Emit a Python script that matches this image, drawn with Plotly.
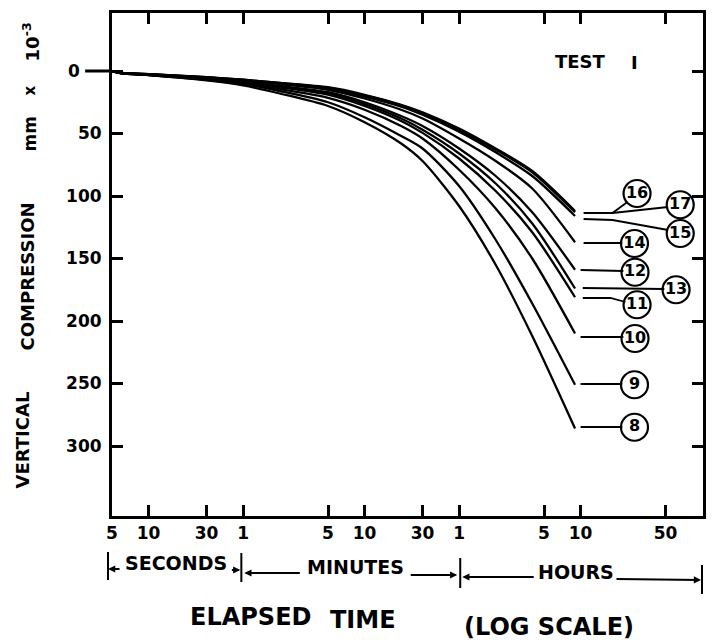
import plotly.graph_objects as go

# ---------------- data ----------------
times = [5, 6, 10, 30, 60, 120, 300, 600, 1200, 1800, 3600, 7200, 14400, 32400]  # seconds

test8 = [0, 1.9, 3.3, 7.5, 11.5, 18, 28, 41, 58, 72, 108, 155, 212, 286]
test9 = [0, 1.8, 3.2, 7.0, 10.5, 16, 25, 37, 52, 62, 92, 135, 186, 251]
test10 = [0, 1.8, 3.1, 6.6, 9.8, 14.5, 21.5, 31, 44, 54, 79, 110, 150, 210]
test11 = [0, 1.7, 3.0, 6.3, 9.2, 13, 19, 28, 40, 49.5, 70, 96, 129, 181]
test12 = [0, 1.7, 2.9, 6.0, 8.5, 12, 17, 25, 36, 44, 62, 84, 113, 159]
test13 = [0, 1.7, 2.9, 6.1, 8.8, 12.5, 18, 26.5, 38, 47, 66, 90, 122, 174]
test14 = [0, 1.6, 2.7, 5.5, 7.8, 10.5, 15, 22, 31, 38, 54, 72, 94, 137]
test15 = [0, 1.5, 2.6, 5.2, 7.3, 10, 14, 20.5, 28.5, 35, 48.5, 65, 84, 116]
test16 = [0, 1.5, 2.5, 5.0, 7.0, 9.5, 13, 19, 27, 33, 46, 62, 80, 112]
test17 = [0, 1.5, 2.5, 5.0, 7.0, 9.5, 13.5, 19.5, 27.5, 34, 47, 63, 81, 113]

label_names = ["16", "17", "15", "14", "12", "13", "11", "10", "9", "8"]
label_t = [105000, 238000, 238000, 100000, 101000, 220000, 105000, 101000, 100000, 100000]
label_v = [98, 107, 130, 138, 161, 175, 187, 214, 251, 285]

leader_t = [38100, 65900, 87400, None,
            65900, 189000, None,
            38100, 65900, 189000, None,
            38100, 79400, None,
            36000, 81000, None,
            37500, 176000, None,
            37500, 63400, 84200, None,
            36000, 81000, None,
            36000, 79400, None,
            36000, 79400]
leader_v = [113.6, 113.6, 104.8, None,
            113.6, 108.8, None,
            118.4, 119.2, 127.2, None,
            137.6, 137.6, None,
            159.2, 160, None,
            173.6, 174.4, None,
            181.6, 181.6, 184.8, None,
            212.8, 212.8, None,
            250.4, 250.4, None,
            284.8, 284.8]

x_tickvals = [5, 10, 30, 60, 300, 600, 1800, 3600, 18000, 36000, 180000]
x_ticktext = ["5", "10", "30", "1", "5", "10", "30", "1", "5", "10", "50"]
y_tickvals = [0, 50, 100, 150, 200, 250, 300]
y_ticktext = ["", "50", "100", "150", "200", "250", "300"]

# ---------------- figure ----------------
W, H = 713, 643
L, R, T, B = 112, 7, 13, 127
PW, PH = W - L - R, H - T - B


def px_x(px):
    return (px - L) / PW


def px_y(py):
    return 1 - (py - T) / PH


FONT = "DejaVu Sans"
fig = go.Figure()

series = [("8", test8), ("9", test9), ("10", test10), ("11", test11), ("12", test12),
          ("13", test13), ("14", test14), ("15", test15), ("16", test16), ("17", test17)]
for name, vals in series:
    fig.add_trace(go.Scatter(x=times, y=vals, mode="lines", name=name,
                             line=dict(color="black", width=2.3, shape="spline", smoothing=0.8),
                             showlegend=False, hoverinfo="skip"))

fig.add_trace(go.Scatter(x=leader_t, y=leader_v, mode="lines",
                         line=dict(color="black", width=1.8),
                         showlegend=False, hoverinfo="skip", connectgaps=False))

fig.add_trace(go.Scatter(x=label_t, y=label_v, mode="markers+text", text=label_names,
                         textposition="middle center",
                         textfont=dict(family=FONT, size=16, color="black", weight="bold"),
                         marker=dict(symbol="circle-open", size=27, color="black",
                                     line=dict(width=2.2, color="black")),
                         showlegend=False, hoverinfo="skip"))

axis_common = dict(showline=True, linecolor="black", linewidth=3, mirror="ticks",
                   ticks="inside", ticklen=11, tickwidth=3, tickcolor="black",
                   showgrid=False, zeroline=False)

fig.update_xaxes(type="log", range=[0.699, 5.564], tickmode="array",
                 tickvals=x_tickvals, ticktext=x_ticktext,
                 tickfont=dict(family=FONT, size=17, color="black", weight="bold"),
                 **axis_common)
fig.update_yaxes(range=[356, -46.4], tickmode="array",
                 tickvals=y_tickvals, ticktext=y_ticktext,
                 tickfont=dict(family=FONT, size=17, color="black", weight="bold"),
                 ticklabelstandoff=4,
                 **axis_common)

ann = []
fb = lambda s: dict(family=FONT, size=s, color="black", weight="bold")


def txt_ann(text, cx, cy, size, angle=0):
    return dict(text=text, x=px_x(cx), y=px_y(cy), xref="paper", yref="paper",
                xanchor="center", yanchor="middle", showarrow=False,
                textangle=angle, font=fb(size))


# zero label
ann.append(txt_ann("0", 74, 71, 17))
# test label
ann.append(txt_ann("TEST", 583, 61, 18))
ann.append(txt_ann("I", 637, 62, 18))
# y-axis title words
for txt, cx, cy, sz in [("VERTICAL", 22, 440, 18), ("COMPRESSION", 27, 276, 18),
                        ("mm", 30, 134, 17), ("x", 30, 90, 15), ("10<sup>-3</sup>", 31, 42, 18)]:
    ann.append(txt_ann(txt, cx, cy, sz, -90))
# x-axis title
for txt, cx, cy in [("ELAPSED", 251, 617), ("TIME", 364, 620), ("(LOG SCALE)", 551, 627)]:
    ann.append(txt_ann(txt, cx, cy, 24))
# unit row text
for txt, cx, cy in [("SECONDS", 176, 563), ("MINUTES", 357, 567), ("HOURS", 578, 572)]:
    ann.append(txt_ann(txt, cx, cy, 19))
# unit row arrows (head at x,y ; tail at pixel offset)
for hx, hy, tx, ty in [(108, 569, 121, 569), (241, 570, 231, 570),
                       (245, 573, 302, 573), (459, 575, 411, 575),
                       (464, 577, 537, 577), (704, 580, 618, 579)]:
    ann.append(dict(text="", x=px_x(hx), y=px_y(hy), xref="paper", yref="paper",
                    ax=tx - hx, ay=ty - hy, axref="pixel", ayref="pixel",
                    showarrow=True, arrowhead=2, arrowsize=0.8, arrowwidth=1.8,
                    arrowcolor="black", standoff=0, startstandoff=0))
fig.update_layout(annotations=ann)

shapes = []
# zero tick extension outside the axis
shapes.append(dict(type="line", xref="paper", yref="y", x0=px_x(85), x1=0, y0=0, y1=0,
                   line=dict(color="black", width=3)))
# unit row separator bars
for bx, y0, y1 in [(108, 552, 580), (242, 553, 582), (462, 558, 588), (705, 565, 594)]:
    shapes.append(dict(type="line", xref="paper", yref="paper", x0=px_x(bx), x1=px_x(bx),
                       y0=px_y(y0), y1=px_y(y1), line=dict(color="black", width=2)))
fig.update_layout(shapes=shapes)

fig.update_layout(width=W, height=H, margin=dict(l=L, r=R, t=T, b=B),
                  paper_bgcolor="white", plot_bgcolor="white", showlegend=False)

fig.write_html("out.html")
